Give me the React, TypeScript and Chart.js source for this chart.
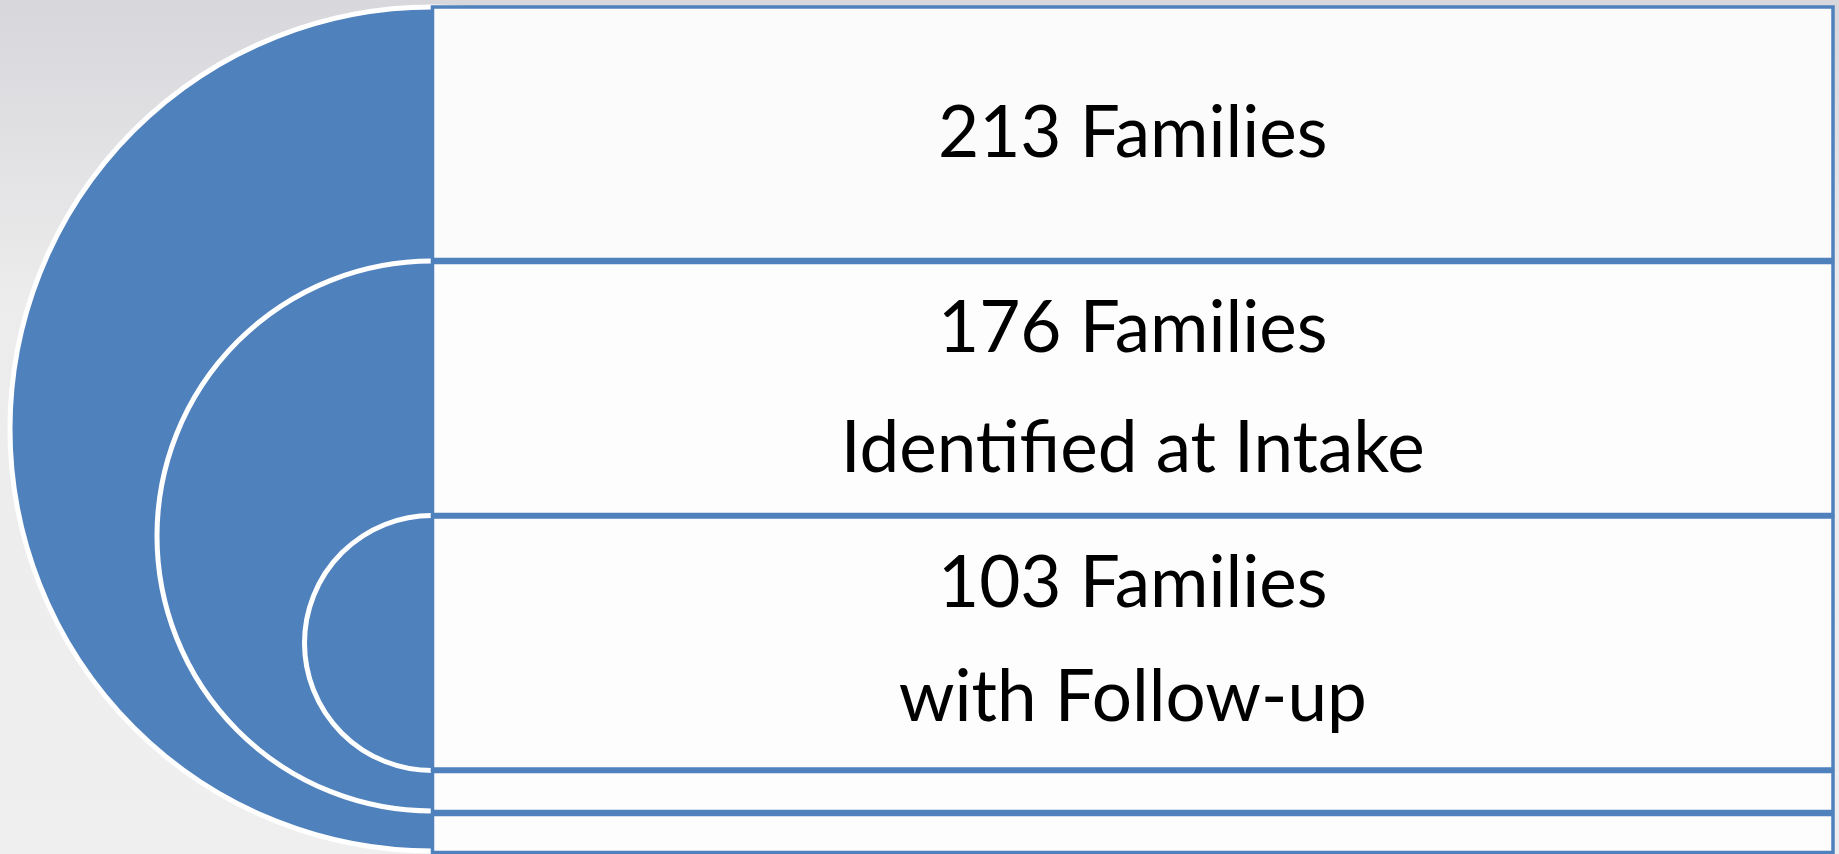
import React, { useEffect, useRef } from "react";
import { Chart, registerables } from "chart.js";

Chart.register(...registerables);

// ---- data ----
const counts = [213, 176, 103];
const countUnit = "Families";
const subtitles = ["", "Identified at Intake", "with Follow-up"];

// ---- layout (diagram units, 1 unit = 1 px of the 1839 x 854 canvas) ----
const W = 1839;
const H = 854;
const boxLeft = 432.5;
const boxRight = 1833;
const rowTops = [7, 262.5, 517, 771.5, 814.5];
const rowBottoms = [259.5, 514.5, 769, 811.5, 852.5];
const circleCenterX = 432;
const circleCentersY = [429, 536, 643];
const circleRadii = [422, 275, 127.5];
const lineBaselines = [[157], [352, 472], [607, 721]];

// ---- styles ----
const BLUE = "#4F81BD";
const FONT = '71px Lato, "Open Sans", sans-serif';

const backgroundPlugin = {
  id: "pageBackground",
  beforeDraw(chart: any) {
    const { ctx, width, height } = chart;
    ctx.save();
    const g = ctx.createLinearGradient(0, 0, 0, height);
    g.addColorStop(0, "#d7d7dc");
    g.addColorStop(0.35, "#ececec");
    g.addColorStop(1, "#efefef");
    ctx.fillStyle = g;
    ctx.fillRect(0, 0, width, height);
    ctx.restore();
  },
};

const labelPlugin = {
  id: "rowLabels",
  afterDatasetsDraw(chart: any) {
    const { ctx } = chart;
    const xs = chart.scales.x;
    const ys = chart.scales.y;
    ctx.save();
    ctx.fillStyle = "#000000";
    ctx.textAlign = "center";
    ctx.textBaseline = "alphabetic";
    ctx.font = FONT;
    const cx = xs.getPixelForValue((boxLeft + boxRight) / 2);
    counts.forEach((n, i) => {
      const lines = [`${n} ${countUnit}`];
      if (subtitles[i]) lines.push(subtitles[i]);
      lines.forEach((t, j) => {
        ctx.fillText(t, cx, ys.getPixelForValue(lineBaselines[i][j]));
      });
    });
    ctx.restore();
  },
};

export default function App() {
  const canvasRef = useRef<HTMLCanvasElement | null>(null);

  useEffect(() => {
    const canvas = canvasRef.current;
    if (!canvas) return;

    const rectDatasets = rowTops.map((top, i) => ({
      type: "line" as const,
      data: [
        { x: boxLeft, y: top },
        { x: boxRight, y: top },
        { x: boxRight, y: rowBottoms[i] },
        { x: boxLeft, y: rowBottoms[i] },
        { x: boxLeft, y: top },
      ],
      borderColor: BLUE,
      borderWidth: 3.5,
      borderJoinStyle: "miter" as const,
      borderCapStyle: "square" as const,
      backgroundColor: i === 0 ? "#fbfbfb" : "#fdfdfd",
      fill: "shape",
      pointRadius: 0,
      pointHoverRadius: 0,
      tension: 0,
      order: 0,
    }));

    const circleDataset = {
      type: "bubble" as const,
      data: circleCentersY.map((cy, i) => ({
        x: circleCenterX,
        y: cy,
        r: circleRadii[i],
      })),
      backgroundColor: BLUE,
      borderColor: "#ffffff",
      borderWidth: 5,
      hoverBorderWidth: 5,
      clip: false,
      order: 10,
    };

    const chart = new Chart(canvas, {
      type: "scatter",
      data: { datasets: [...(rectDatasets as any[]), circleDataset as any] },
      options: {
        responsive: false,
        maintainAspectRatio: false,
        devicePixelRatio: 1,
        animation: false,
        events: [],
        layout: { padding: 0, autoPadding: false },
        plugins: {
          legend: { display: false },
          tooltip: { enabled: false },
        },
        scales: {
          x: { type: "linear", min: 0, max: W, display: false },
          y: { type: "linear", min: 0, max: H, reverse: true, display: false },
        },
      },
      plugins: [backgroundPlugin, labelPlugin],
    });

    return () => chart.destroy();
  }, []);

  return (
    <div style={{ position: "absolute", left: 0, top: 0, width: W, height: H }}>
      <canvas
        ref={canvasRef}
        width={W}
        height={H}
        style={{ display: "block", width: W, height: H }}
      />
    </div>
  );
}
